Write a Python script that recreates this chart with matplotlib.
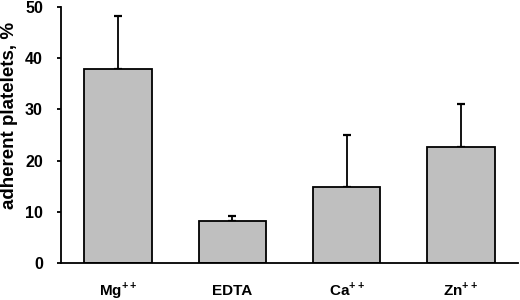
import numpy as np
import matplotlib
matplotlib.use("Agg")
import matplotlib.pyplot as plt

# values
labels = [r"Mg$^{\mathbf{++}}$", "EDTA", r"Ca$^{\mathbf{++}}$", r"Zn$^{\mathbf{++}}$"]
means = [37.9, 8.3, 14.9, 22.6]
errs = [10.4, 0.8, 10.1, 8.4]
yticks = [0, 10, 20, 30, 40, 50]

plt.rcParams.update({"font.family": "Liberation Sans", "font.weight": "bold",
                     "mathtext.fontset": "custom", "mathtext.bf": "Liberation Sans:bold",
                     "mathtext.rm": "Liberation Sans:bold"})

fig = plt.figure(figsize=(5.2, 3.0), dpi=100)
ax = fig.add_axes([61 / 520, 1 - 263 / 300, 457 / 520, 256 / 300])

x = np.arange(len(means)) + 0.5
ax.bar(x, means, 0.59, color="#bfbfbf", edgecolor="black", linewidth=1.3, zorder=2)
ax.errorbar(x, means, yerr=[np.zeros(len(errs)), errs], fmt="none", ecolor="black",
            elinewidth=1.3, capsize=3, capthick=1.6, zorder=1)

ax.set_xlim(0, 4)
ax.set_ylim(0, 50)
ax.set_yticks(yticks)
ax.set_xticks(x)
ax.set_xticklabels(labels, fontsize=11, va="baseline")
ax.tick_params(axis="x", length=0, pad=23)
ax.tick_params(axis="y", length=3, width=1.3, labelsize=11.5, pad=10)
for t in ax.get_yticklabels():
    t.set_fontweight("bold")
ax.set_ylabel("adherent platelets, %", fontsize=13.5, fontweight="bold", va="center")
ax.yaxis.set_label_coords(-51 / 457, 0.575)
for s in ("top", "right"):
    ax.spines[s].set_visible(False)
ax.spines["left"].set_linewidth(1.3)
ax.spines["bottom"].set_linewidth(1.3)

fig.savefig("out.png", dpi=100)
